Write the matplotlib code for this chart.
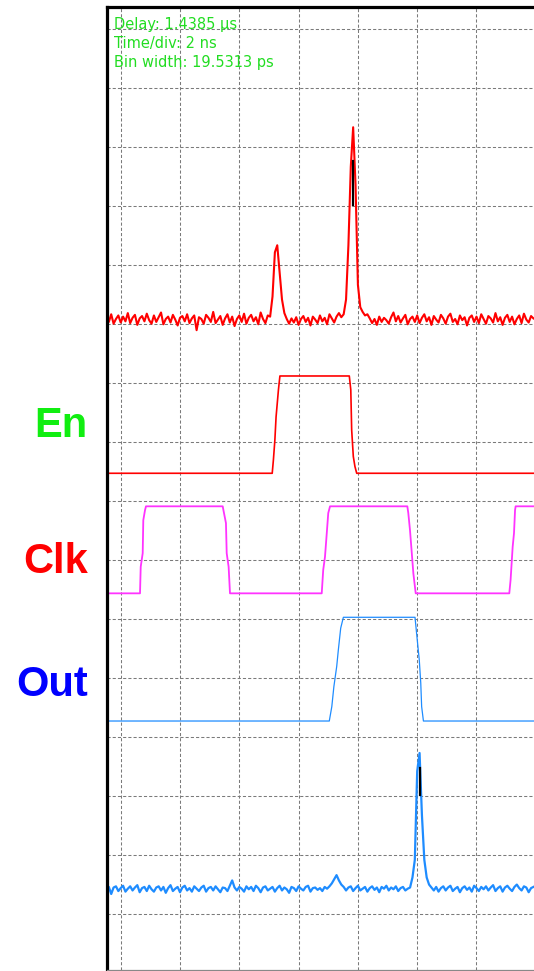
import numpy as np
import matplotlib
matplotlib.use("Agg")
import matplotlib.pyplot as plt

# ---------------- data ----------------
# time axis in ns (2 ns / div); noisy histogram traces sampled every 0.08 ns
t_start, t_step, n_samp = -0.48, 0.08, 181

# channel 1 (red histogram, top) : baseline + offsets (divisions)
ch1_base = 10.07
ch1_rel = [
    0.05, -0.03, 0.10, -0.06, 0.02, 0.08, -0.04, 0.06, -0.02, 0.12,
    -0.05, 0.04, 0.09, -0.08, 0.03, 0.07, -0.02, 0.11, 0.00, -0.06,
    0.08, -0.03, 0.05, 0.13, -0.07, 0.02, 0.06, -0.04, 0.09, 0.01,
    -0.09, 0.04, 0.07, -0.02, 0.10, -0.05, 0.03, 0.08, -0.17, 0.05,
    0.02, -0.06, 0.09, 0.04, -0.03, 0.14, -0.05, 0.01, 0.07, -0.08,
    0.03, 0.10, -0.04, 0.06, -0.10, 0.02, 0.08, -0.03, 0.11, -0.06,
    0.04, 0.09, -0.02, 0.05, -0.07, 0.13, 0.02, -0.05, 0.08, 0.06,
    0.40, 1.15, 1.27, 0.80, 0.35, 0.12, 0.02, -0.06, 0.03, -0.04,
    0.05, -0.08, 0.02, 0.07, -0.03, 0.04, -0.09, 0.06, 0.01, -0.05,
    0.08, -0.02, 0.04, -0.07, 0.10, 0.03, -0.04, 0.06, 0.12, 0.05,
    0.10, 0.35, 1.27, 2.60, 3.27, 2.30, 0.60, 0.22, 0.14, 0.08,
    0.10, 0.03, -0.05, 0.02, -0.08, 0.06, -0.03, 0.04, 0.00, -0.06,
    0.05, 0.13, -0.02, 0.07, -0.04, 0.03, 0.09, -0.07, 0.02, 0.06,
    -0.03, 0.08, -0.05, 0.04, 0.10, -0.02, 0.05, -0.08, 0.07, 0.01,
    -0.04, 0.09, 0.03, -0.06, 0.06, 0.11, -0.03, 0.02, -0.07, 0.08,
    0.00, 0.05, -0.09, 0.04, 0.08, -0.03, 0.06, -0.05, 0.10, 0.02,
    -0.06, 0.07, 0.03, -0.04, 0.12, -0.02, 0.05, -0.08, 0.04, 0.09,
    -0.03, 0.06, -0.07, 0.02, 0.08, -0.05, 0.11, 0.01, -0.04, 0.07,
    0.03,
]

# channel 5 (blue histogram, bottom)
ch5_base = 0.424
ch5_rel = [
    -0.02, 0.04, -0.08, 0.03, 0.05, -0.03, 0.02, 0.06, -0.04, 0.01,
    0.05, -0.02, 0.03, 0.07, -0.05, 0.02, 0.04, -0.03, 0.06, 0.00,
    -0.04, 0.03, 0.05, -0.02, 0.04, -0.06, 0.02, 0.07, -0.03, 0.01,
    0.04, -0.05, 0.03, 0.06, -0.02, 0.02, -0.04, 0.05, 0.01, -0.03,
    0.03, 0.06, -0.04, 0.02, 0.04, -0.02, 0.05, 0.00, -0.05, 0.03,
    0.02, -0.03, 0.06, 0.15, 0.03, -0.02, 0.04, 0.01, -0.04, 0.05,
    0.00, 0.04, -0.03, 0.06, 0.02, -0.05, 0.03, 0.05, -0.02, 0.01,
    0.04, -0.04, 0.02, 0.06, -0.02, 0.03, 0.00, -0.06, 0.04, 0.02,
    -0.03, 0.05, 0.01, -0.02, 0.04, 0.06, -0.04, 0.02, 0.03, -0.01,
    0.02, -0.03, 0.04, 0.01, 0.05, 0.10, 0.17, 0.24, 0.15, 0.08,
    0.04, -0.02, 0.03, 0.05, -0.03, 0.02, 0.06, -0.02, 0.01, 0.04,
    -0.04, 0.02, 0.05, -0.01, 0.03, -0.05, 0.04, 0.01, 0.06, -0.02,
    0.03, 0.00, 0.05, -0.03, 0.02, 0.04, -0.02, 0.01, 0.03, 0.20,
    0.50, 2.00, 2.31, 1.25, 0.50, 0.20, 0.08, 0.03, -0.02, 0.04,
    -0.04, 0.02, 0.05, -0.02, 0.03, 0.06, -0.03, 0.01, 0.04, -0.05,
    0.02, 0.05, -0.01, 0.03, -0.04, 0.06, 0.02, -0.03, 0.04, 0.00,
    0.05, -0.02, 0.03, 0.07, -0.03, 0.02, 0.05, -0.04, 0.03, 0.06,
    0.01, -0.03, 0.04, 0.08, 0.02, -0.02, 0.05, 0.03, -0.05, 0.02,
    0.04,
]

# En (red digital trace)
en_t = [-0.5, 5.11, 5.15, 5.20, 5.24, 5.32, 5.37, 7.71, 7.76, 7.79, 7.845, 7.90, 7.96, 14.0]
en_v = [7.475, 7.475, 7.70, 8.04, 8.43, 8.89, 9.124, 9.124, 8.89, 8.21, 7.76, 7.59, 7.475, 7.475]

# Clk (magenta digital trace)
clk_t = [-0.5, 0.651, 0.675, 0.742, 0.762, 0.82, 0.853,
         3.44, 3.484, 3.55, 3.575, 3.64, 3.686,
         6.78, 6.83, 6.89, 6.95, 7.00, 7.06,
         9.667, 9.70, 9.757, 9.81, 9.87, 9.95,
         13.106, 13.15, 13.22, 13.265, 13.30, 13.32, 14.0]
clk_v = [5.44, 5.44, 5.89, 6.12, 6.68, 6.85, 6.915,
         6.915, 6.80, 6.63, 6.12, 5.89, 5.44,
         5.44, 5.835, 6.06, 6.46, 6.80, 6.915,
         6.915, 6.80, 6.51, 6.17, 5.78, 5.44,
         5.44, 5.67, 6.23, 6.46, 6.85, 6.915, 6.915]

# Out (blue digital trace)
out_t = [-0.5, 7.035, 7.12, 7.19, 7.285, 7.34, 7.42, 7.51, 9.926, 9.98, 10.07, 10.12, 10.15, 10.21, 14.0]
out_v = [3.276, 3.276, 3.52, 3.86, 4.20, 4.48, 4.85, 5.034, 5.034, 4.76, 4.31, 3.92, 3.52, 3.276, 3.276]

# dark overlay segments on peak tops
mark1_t, mark1_v = [7.83, 7.83], [12.02, 12.77]
mark5_t, mark5_v = [10.08, 10.08], [2.03, 2.48]

info_lines = ["Delay: 1.4385 \u00b5s", "Time/div: 2 ns", "Bin width: 19.5313 ps"]
labels = ["En", "Clk", "Out"]
label_colors = ["#11ee11", "#ff0000", "#0000ff"]

# ---------------- figure ----------------
W, H = 534, 971
fig = plt.figure(figsize=(W / 100, H / 100), dpi=100)
fig.patch.set_facecolor("white")

ax_l, ax_r, ax_t, ax_b = 106.5, 534, 7.5, 970
ax = fig.add_axes([ax_l / W, 1 - ax_b / H, (ax_r - ax_l) / W, (ax_b - ax_t) / H])

px_per_div = 59.0
x0_px, y0_px = 120.7, 914.3
ns_per_px = 2.0 / 59.3
ax.set_xlim((ax_l - x0_px) * ns_per_px, (ax_r - x0_px) * ns_per_px)
ax.set_ylim((y0_px - ax_b) / px_per_div, (y0_px - ax_t) / px_per_div)

ax.set_xticks(np.arange(0, 14, 2))
ax.set_yticks(np.arange(0, 16, 1))
ax.tick_params(length=0, labelbottom=False, labelleft=False)
ax.grid(True, color="#7a7a7a", linestyle=(0, (3, 2)), linewidth=0.75)
ax.set_axisbelow(True)

ax.spines["right"].set_visible(False)
ax.spines["left"].set_color("black")
ax.spines["left"].set_linewidth(2.3)
ax.spines["top"].set_color("black")
ax.spines["top"].set_linewidth(2.3)
ax.spines["bottom"].set_color("#888888")
ax.spines["bottom"].set_linewidth(0.9)

t = t_start + t_step * np.arange(n_samp)
ax.plot(t, ch1_base + np.array(ch1_rel), color="#ff0000", lw=1.5)
ax.plot(t, ch5_base + np.array(ch5_rel), color="#1e8cff", lw=1.6)
ax.plot(en_t, en_v, color="#ff0000", lw=1.2)
ax.plot(clk_t, clk_v, color="#ff33ff", lw=1.3)
ax.plot(out_t, out_v, color="#1e8cff", lw=0.9)
ax.plot(mark1_t, mark1_v, color="black", lw=1.6)
ax.plot(mark5_t, mark5_v, color="black", lw=1.6)

# info text
for i, s in enumerate(info_lines):
    fig.text(114 / W, 1 - (29.5 + 18.5 * i) / H, s, color="#22dd22", fontsize=10.5,
             family="DejaVu Sans", ha="left", va="baseline")

# channel labels
label_base_px = [437, 573, 696]
for lab, c, yb in zip(labels, label_colors, label_base_px):
    fig.text(88 / W, 1 - yb / H, lab, color=c, fontsize=30, fontweight="bold",
             family="Liberation Sans", ha="right", va="baseline")

fig.savefig("out.png", dpi=100, facecolor="white")
